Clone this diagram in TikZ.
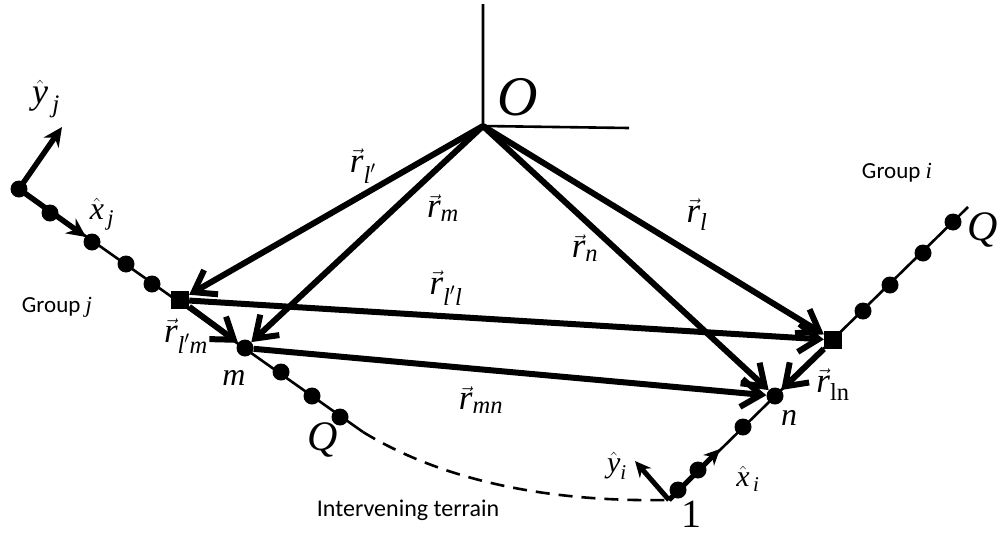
\documentclass[tikz,border=0pt]{standalone}
\usepackage{amsmath}
\usepackage{fontspec}
\setmainfont{Liberation Serif}
\newfontfamily\grpfont{Carlito}
\usetikzlibrary{arrows.meta}
\newcommand{\fsz}[1]{\fontsize{#1}{#1}\selectfont}
\newcommand{\rv}[1]{$\vec{\textit{r}}_{#1}$}
\begin{document}
\begin{tikzpicture}[x=1pt,y=-1pt,
  dot/.style={circle,fill,inner sep=0pt,minimum size=17pt},
  sq/.style={rectangle,fill,inner sep=0pt,minimum size=18pt},
  rvec/.style={line width=6pt,-{Straight Barb[length=20pt,width=28pt]}},
  uvec/.style={line width=5.5pt,-{Stealth[length=19pt,width=18pt]}},
  grpline/.style={line width=2.6pt},
  lbl/.style={inner sep=0pt},
]
\useasboundingbox (0,0) rectangle (998,538);
% origin axes
\coordinate (O) at (483,126);
\coordinate (Otop) at (483,4);
\coordinate (Oright) at (629,128);
\draw[line width=2.6pt] (Otop) -- (O) -- (Oright);
% group j
\coordinate (j0) at (19,189);
\coordinate (jend) at (363,432);
\draw[grpline] (j0) -- (jend);
\node[dot] (j0d) at (j0) {};
\node[dot] (j1) at (50,213) {};
\node[dot] (j2) at (92,242) {};
\node[dot] (j3) at (126,264) {};
\node[dot] (j4) at (152,284) {};
\node[sq] (lp) at (180,300) {};
\node[dot] (m) at (245,348) {};
\node[dot] (j5) at (281,372) {};
\node[dot] (j6) at (312,396) {};
\node[dot] (j7) at (340,417) {};
\coordinate (yjtip) at (62,127);
\coordinate (xjtip) at (86,237);
\draw[uvec] (j0) -- (yjtip);
\draw[uvec] (j0) -- (xjtip);
% group i
\coordinate (i0) at (669,500);
\coordinate (iend) at (968,207);
\draw[grpline] (i0) -- (iend);
\node[dot] (i1) at (678,490) {};
\node[dot] (i2) at (698,470) {};
\node[dot] (i3) at (743,427) {};
\node[dot] (n) at (775,396) {};
\node[sq] (l) at (833,340) {};
\node[dot] (i4) at (863,311) {};
\node[dot] (i5) at (890,285) {};
\node[dot] (i6) at (923,253) {};
\node[dot] (i7) at (953,222) {};
\coordinate (yitip) at (635,461);
\coordinate (xitip) at (720,449);
\draw[line width=5pt,-{Stealth[length=16pt,width=15pt]}] (i0) -- (yitip);
\draw[line width=5pt,-{Stealth[length=16pt,width=15pt]}] (i0) -- (xitip);
% terrain
\draw[grpline,dash pattern=on 14pt off 9pt] (jend) .. controls (450,485) and (560,502) .. (i0);
% position vectors
\draw[rvec] (O) -- (lp);
\draw[rvec] (O) -- (m);
\draw[rvec] (O) -- (n);
\draw[rvec] (O) -- (l);
\draw[rvec] (lp) -- (l);
\draw[rvec] (m) -- (n);
\draw[rvec] (lp) -- (m);
\draw[rvec] (l) -- (n);
% labels
\node[lbl] (Olbl) at (518,97) {\fsz{56}\textit{O}};
\node[lbl] (rlp) at (363,166) {\fsz{35}\rv{\textit{l}'}};
\node[lbl] (rm) at (443,208) {\fsz{35}\rv{\textit{m}}};
\node[lbl] (rn) at (585,248) {\fsz{35}\rv{\textit{n}}};
\node[lbl] (rl) at (697,215) {\fsz{35}\rv{\textit{l}}};
\node[lbl] (rlpl) at (446,288) {\fsz{35}\rv{\textit{l}'\textit{l}}};
\node[lbl] (rmn) at (481,400) {\fsz{35}\rv{\textit{mn}}};
\node[lbl] (rlpm) at (186,336) {\fsz{35}\rv{\textit{l}'\textit{m}}};
\node[lbl] (rln) at (833,385) {\fsz{35}\rv{\text{ln}}};
\node[lbl] (yj) at (46,99) {\fsz{36}$\hat{\textit{y}}_{\,\textit{j}}$};
\node[lbl] (xj) at (102,214) {\fsz{32}$\hat{\textit{x}}_{\,\textit{j}}$};
\node[lbl] (yi) at (617,466) {\fsz{30}$\hat{\textit{y}}_{\textit{i}}$};
\node[lbl] (xi) at (748,479) {\fsz{30}$\hat{\textit{x}}_{\,\textit{i}}$};
\node[lbl] (Qj) at (323,440) {\fsz{42}\textit{Q}};
\node[lbl] (Qi) at (983,230) {\fsz{42}\textit{Q}};
\node[lbl] (mlbl) at (234,378) {\fsz{32}\textit{m}};
\node[lbl] (nlbl) at (789,418) {\fsz{32}\textit{n}};
\node[lbl] (one) at (691,514) {\fsz{40}1};
\node[lbl] (gj) at (57,307) {\grpfont\fsz{23}Group {\rmfamily\itshape j}};
\node[lbl] (gi) at (897,173) {\grpfont\fsz{23}Group {\rmfamily\itshape i}};
\node[lbl] (terr) at (408,510) {\grpfont\fsz{24}Intervening terrain};
\end{tikzpicture}
\end{document}
